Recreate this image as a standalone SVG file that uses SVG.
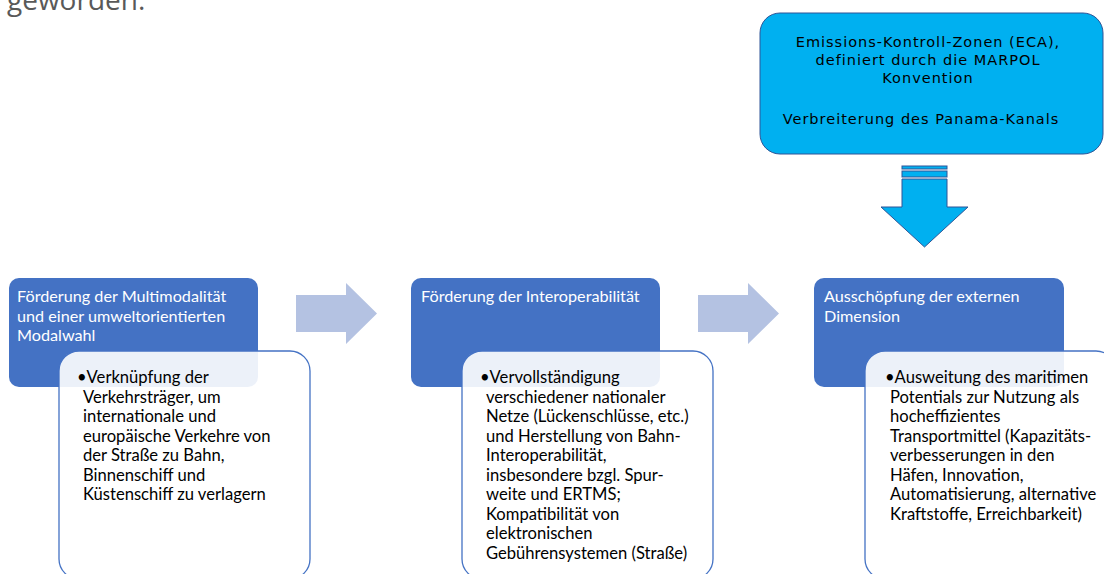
<svg xmlns="http://www.w3.org/2000/svg" width="1104" height="574" viewBox="0 0 1104 574">
<style>
.head{fill:#4472c4;}
.card{fill:#ffffff;fill-opacity:0.9;stroke:#4472c4;stroke-width:1.3;}
.ht{font-family:Lato,"Liberation Sans",sans-serif;font-size:16.2px;fill:#ffffff;}
.bt{font-family:Lato,"Liberation Sans",sans-serif;font-size:16.6px;fill:#000000;}
.arr{fill:#b4c2e2;}
.cyan{fill:#00b0f0;stroke:#2f5597;stroke-width:1;}
.tt{font-family:"DejaVu Sans",Verdana,sans-serif;font-size:14.5px;letter-spacing:1px;fill:#000000;text-anchor:middle;}
</style>
<text x="7" y="10" font-family="'Open Sans',sans-serif" font-size="28" fill="#595959">geworden.</text>

<g id="source">
<rect class="cyan" x="760" y="13" width="343" height="141" rx="20"/>
<text class="tt" x="928" y="47">Emissions-Kontroll-Zonen  (ECA),</text>
<text class="tt" x="928" y="65">definiert durch die MARPOL</text>
<text class="tt" x="928" y="83">Konvention</text>
<text class="tt" x="921" y="124">Verbreiterung  des Panama-Kanals</text>
</g>

<g id="connectors">
<g id="down-arrow">
<rect class="cyan" x="902" y="166" width="45" height="3"/>
<rect class="cyan" x="902" y="171" width="45" height="6"/>
<polygon class="cyan" points="902,179 947,179 947,207 968,207 924.5,247 881,207 902,207"/>
</g>
<polygon class="arr" points="296,295 346,295 346,283 377,313.5 346,344 346,332 296,332"/>
<polygon class="arr" points="698,295 748,295 748,283 779,313.5 748,344 748,332 698,332"/>
</g>

<g id="node1">
<rect class="head" x="9" y="278" width="249" height="109" rx="10"/>
<text class="ht" x="17" y="302">Förderung der Multimodalität</text>
<text class="ht" x="17" y="321.5">und einer umweltorientierten</text>
<text class="ht" x="17" y="341">Modalwahl</text>
<rect class="card" x="59" y="351" width="251" height="228" rx="20"/>
<text class="bt" x="77" y="383">•Verknüpfung der</text>
<text class="bt" x="83" y="402.5">Verkehrsträger, um</text>
<text class="bt" x="83" y="422">internationale und</text>
<text class="bt" x="83" y="441.5">europäische Verkehre von</text>
<text class="bt" x="83" y="461">der Straße  zu Bahn,</text>
<text class="bt" x="83" y="480.5">Binnenschiff und</text>
<text class="bt" x="83" y="500">Küstenschiff zu verlagern</text>
</g>

<g id="node2">
<rect class="head" x="411" y="278" width="249" height="109" rx="10"/>
<text class="ht" x="421" y="302">Förderung der Interoperabilität</text>
<rect class="card" x="462" y="351" width="251" height="228" rx="20"/>
<text class="bt" x="480" y="383">•Vervollständigung</text>
<text class="bt" x="486" y="402.5">verschiedener nationaler</text>
<text class="bt" x="486" y="422">Netze (Lückenschlüsse, etc.)</text>
<text class="bt" x="486" y="441.5">und Herstellung von Bahn-</text>
<text class="bt" x="486" y="461">Interoperabilität,</text>
<text class="bt" x="486" y="480.5">insbesondere bzgl. Spur-</text>
<text class="bt" x="486" y="500">weite und  ERTMS;</text>
<text class="bt" x="486" y="519.5">Kompatibilität von</text>
<text class="bt" x="486" y="539">elektronischen</text>
<text class="bt" x="486" y="558.5">Gebührensystemen (Straße)</text>
</g>

<g id="node3">
<rect class="head" x="814" y="278" width="250" height="109" rx="10"/>
<text class="ht" x="824" y="302">Ausschöpfung der externen</text>
<text class="ht" x="824" y="321.5">Dimension</text>
<rect class="card" x="865" y="351" width="251" height="228" rx="20"/>
<text class="bt" x="885" y="383">•Ausweitung des maritimen</text>
<text class="bt" x="890" y="402.5">Potentials zur Nutzung als</text>
<text class="bt" x="890" y="422">hocheffizientes</text>
<text class="bt" x="890" y="441.5">Transportmittel (Kapazitäts-</text>
<text class="bt" x="890" y="461">verbesserungen in den</text>
<text class="bt" x="890" y="480.5">Häfen, Innovation,</text>
<text class="bt" x="890" y="500">Automatisierung, alternative</text>
<text class="bt" x="890" y="519.5">Kraftstoffe, Erreichbarkeit)</text>
</g>
</svg>
